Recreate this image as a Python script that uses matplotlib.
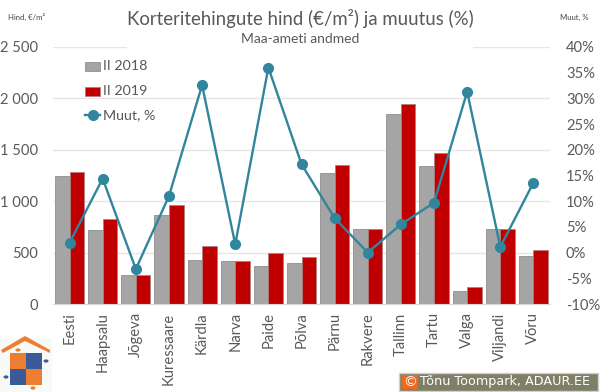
import matplotlib as mpl
import matplotlib.pyplot as plt
from matplotlib.patches import Rectangle, Polygon, Circle

mpl.rcParams['font.family'] = ['Lato', 'DejaVu Sans']

# Data
linnad = ['Eesti', 'Haapsalu', 'Jõgeva', 'Kuressaare', 'Kärdla', 'Narva', 'Paide', 'Põlva',
          'Pärnu', 'Rakvere', 'Tallinn', 'Tartu', 'Valga', 'Viljandi', 'Võru']
hind_2018 = [1250, 720, 285, 865, 430, 415, 365, 395, 1270, 730, 1850, 1340, 125, 725, 470]
hind_2019 = [1280, 825, 280, 960, 565, 420, 495, 460, 1355, 730, 1950, 1470, 165, 730, 530]
muut = [1.9, 14.4, -3.2, 11.0, 32.6, 1.6, 36.0, 17.2, 6.7, 0.0, 5.5, 9.7, 31.3, 1.1, 13.6]
hind_ticks = [0, 500, 1000, 1500, 2000, 2500]
hind_labels = ['0', '500', '1 000', '1 500', '2 000', '2 500']
muut_ticks = list(range(-10, 45, 5))

W, H = 600, 392
GREY = '#a5a5a5'
RED = '#c00000'
TEAL = '#31859c'
TXT = '#595959'
GRID = '#e6e6e6'
MS = 7

fig = plt.figure(figsize=(W/100, H/100), dpi=100)
ax = fig.add_axes([53/W, 1 - 304/H, 497/W, 257/H])
x = list(range(len(linnad)))
bw = 0.44

ax.bar([i - bw/2 for i in x], hind_2018, bw, color=GREY, edgecolor='#8f8f8f', lw=0.6, zorder=2, label='II 2018')
ax.bar([i + bw/2 for i in x], hind_2019, bw, color=RED, edgecolor='#b08080', lw=0.6, zorder=2, label='II 2019')
ax.set_xlim(-0.5, 14.5)
ax.set_ylim(0, 2500)
ax.set_yticks(hind_ticks, hind_labels)
ax.set_xticks(x, linnad, rotation=90)
ax.tick_params(length=0, labelsize=10.6, labelcolor=TXT)
ax.tick_params(axis='x', pad=6)
ax.tick_params(axis='y', pad=11)
ax.grid(axis='y', color=GRID, lw=1, zorder=0)
ax.set_axisbelow(True)
for s in ax.spines.values():
    s.set_visible(False)
ax.spines['bottom'].set_visible(True)
ax.spines['bottom'].set_color('#d9d9d9')

ax2 = ax.twinx()
ax2.plot(x, muut, color=TEAL, lw=1.7, marker='o', ms=MS, mec=TEAL, zorder=5, label='Muut, %')
ax2.set_ylim(-10, 40)
ax2.set_yticks(muut_ticks, [f'{v}%' for v in muut_ticks])
ax2.tick_params(length=0, labelsize=10.6, labelcolor=TXT, pad=11.5)
for s in ax2.spines.values():
    s.set_visible(False)

ax.patch.set_visible(False)
fig.patch.set_facecolor('white')


def px(xp, yp):
    return (xp/W, 1 - yp/H)


tr = fig.transFigure

# white box of the title hides the top gridline in the middle
fig.add_artist(Rectangle(px(127, 60), 346/W, 30/H, transform=tr, fc='white', ec='none', zorder=3))

fig.text(300/W, 1 - 18/H, 'Korteritehingute hind (€/m²) ja muutus (%)', ha='center', va='center',
         fontsize=13.4, color=TXT, zorder=6)
fig.text(300/W, 1 - 39/H, 'Maa-ameti andmed', ha='center', va='center', fontsize=10, color=TXT, zorder=6)
fig.text(26/W, 1 - 17/H, 'Hind, €/m²', ha='center', va='center', fontsize=5.6, color='#404040')
fig.text(574/W, 1 - 17/H, 'Muut, %', ha='center', va='center', fontsize=5.6, color='#404040')

# legend by hand, so that it sits as in the original
for yy, col, ec, lab in [(66, GREY, '#8f8f8f', 'II 2018'), (91, RED, '#b08080', 'II 2019')]:
    fig.add_artist(Rectangle(px(85, yy + 4.5), 15/W, 9/H, transform=tr, fc=col, ec=ec, lw=0.6, zorder=6))
    fig.text(103/W, 1 - yy/H, lab, va='center', fontsize=10.3, color=TXT, zorder=6)
fig.add_artist(plt.Line2D([85/W, 100/W], [1 - 115/H] * 2, color=TEAL, lw=1.7, transform=tr, zorder=6))
fig.add_artist(plt.Line2D([92.5/W], [1 - 115/H], color=TEAL, marker='o', ms=MS, transform=tr, zorder=6))
fig.text(103/W, 1 - 115/H, 'Muut, %', va='center', fontsize=10.3, color=TXT, zorder=6)

# logo bottom left
ORANGE = '#ed7d31'
BLUE = '#3b5a9a'
fig.add_artist(Rectangle(px(0, 392), 52/W, 54/H, transform=tr, fc='#f7faf7', ec='none'))
fig.add_artist(Polygon([px(1, 350), px(25, 336), px(50, 350), px(50, 353), px(25, 341), px(3, 353)],
                       transform=tr, fc=ORANGE, ec='none'))
for x0, y0, col in [(10, 353, ORANGE), (26, 353, BLUE), (10, 369, BLUE), (26, 369, ORANGE)]:
    fig.add_artist(Rectangle(px(x0, y0 + 16), 16/W, 16/H, transform=tr, fc=col, ec='none'))
for cx, cy, col in [(18, 350, ORANGE), (46, 361, BLUE), (6, 377, BLUE), (33, 388, ORANGE)]:
    fig.add_artist(Circle(px(cx, cy), 2.5/W, transform=tr, fc=col, ec='none'))

# copyright box bottom right
fig.add_artist(Rectangle(px(399, 391), 199/W, 18/H, transform=tr, fc='#7f7f66', ec='#d0d0d0', lw=1))
fig.add_artist(Rectangle(px(402, 389), 16/W, 14/H, transform=tr, fc='#ed6a1f', ec='none'))
fig.text(410/W, 1 - 382/H, '©', ha='center', va='center', fontsize=10, color='white')
fig.text(420/W, 1 - 382/H, 'Tõnu Toompark, ADAUR.EE', va='center', fontsize=9.2, color='white',
         family=['DejaVu Sans'])

fig.savefig('out.png', dpi=100)
